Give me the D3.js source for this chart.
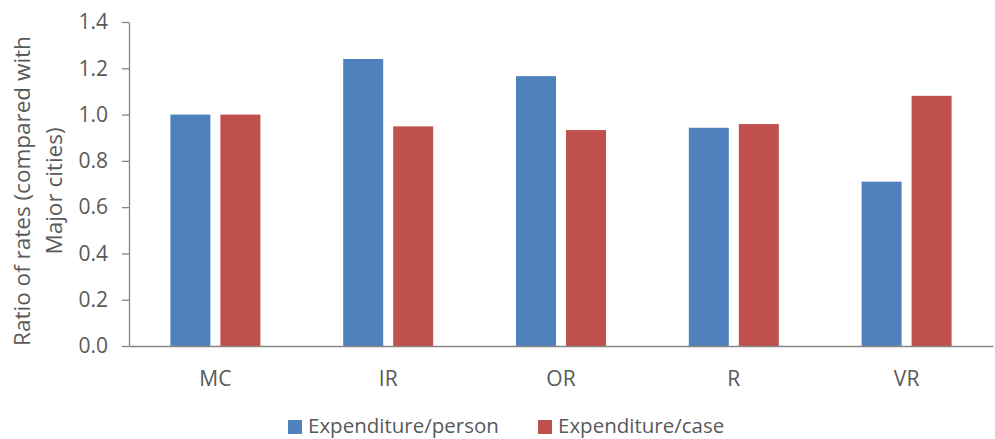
<!DOCTYPE html>
<html>
<head>
<meta charset="utf-8">
<script src="https://cdn.jsdelivr.net/npm/d3@7"></script>
<style>
  html, body { margin: 0; padding: 0; background: #fff; }
  svg { display: block; font-family: "Open Sans", "Noto Sans", sans-serif; }
</style>
</head>
<body>
<svg id="chart" width="995" height="439"></svg>
<script>
// Regions and the two expenditure ratios (relative to Major cities)
const categories = ["MC", "IR", "OR", "R", "VR"];
const seriesNames = ["Expenditure/person", "Expenditure/case"];
const perPerson = [1.0, 1.24, 1.166, 0.943, 0.71];
const perCase = [1.0, 0.949, 0.933, 0.959, 1.081];
const yTicks = [0, 0.2, 0.4, 0.6, 0.8, 1.0, 1.2, 1.4];
const colors = ["#4F81BD", "#C0504D"];

const svg = d3.select("#chart");
const margin = { left: 129, right: 2, top: 22, bottom: 93 };
const W = 995, H = 439;
const plotBottom = H - margin.bottom;

const x = d3.scaleBand().domain(categories).range([margin.left, W - margin.right]);
const xInner = d3.scaleBand().domain(seriesNames).range([-45, 45]).paddingInner(0.2);
const y = d3.scaleLinear().domain([0, 1.4]).range([plotBottom, margin.top]);

const textColor = "#595959";
const axisColor = "#868686";

// Bars
const rows = categories.map((c, i) => ({ cat: c, vals: [perPerson[i], perCase[i]] }));
const groups = svg.append("g").selectAll("g").data(rows).join("g")
  .attr("transform", d => `translate(${x(d.cat) + x.bandwidth() / 2},0)`);
groups.selectAll("rect").data(d => d.vals.map((v, k) => ({ v, k })))
  .join("rect")
  .attr("x", d => xInner(seriesNames[d.k]))
  .attr("width", xInner.bandwidth())
  .attr("y", d => y(d.v))
  .attr("height", d => plotBottom - y(d.v))
  .attr("fill", d => colors[d.k]);

// Y axis
const yAxis = svg.append("g").attr("transform", `translate(${margin.left},0)`)
  .call(d3.axisLeft(y).tickValues(yTicks).tickFormat(d3.format(".1f")).tickSize(7).tickSizeOuter(0).tickPadding(14));
yAxis.select(".domain").attr("stroke", axisColor).attr("stroke-width", 1.3);
yAxis.selectAll(".tick line").attr("stroke", axisColor).attr("stroke-width", 1.3);
yAxis.selectAll(".tick text").attr("fill", textColor).attr("font-size", 21)
  .attr("font-family", "Open Sans, sans-serif");

// X axis
const xAxis = svg.append("g").attr("transform", `translate(0,${plotBottom})`)
  .call(d3.axisBottom(x).tickSize(0).tickPadding(25));
xAxis.select(".domain").attr("stroke", axisColor).attr("stroke-width", 1.3);
xAxis.selectAll(".tick text").attr("fill", textColor).attr("font-size", 21)
  .attr("font-family", "Open Sans, sans-serif");

// Y axis title (two lines)
const title = svg.append("text")
  .attr("transform", "translate(0,191) rotate(-90)")
  .attr("text-anchor", "middle")
  .attr("fill", textColor)
  .attr("font-size", 22.5);
title.append("tspan").attr("x", 0).attr("y", 30).text("Ratio of rates (compared with");
title.append("tspan").attr("x", 0).attr("y", 62).text("Major cities)");

// Legend
const legendX = [288, 538];
const legend = svg.append("g").selectAll("g").data(seriesNames).join("g")
  .attr("transform", (d, i) => `translate(${legendX[i]},420)`);
legend.append("rect").attr("width", 14).attr("height", 14)
  .attr("fill", (d, i) => colors[i]);
legend.append("text").attr("x", 20).attr("y", 13)
  .attr("fill", textColor).attr("font-size", 20.5).text(d => d);
</script>
</body>
</html>
